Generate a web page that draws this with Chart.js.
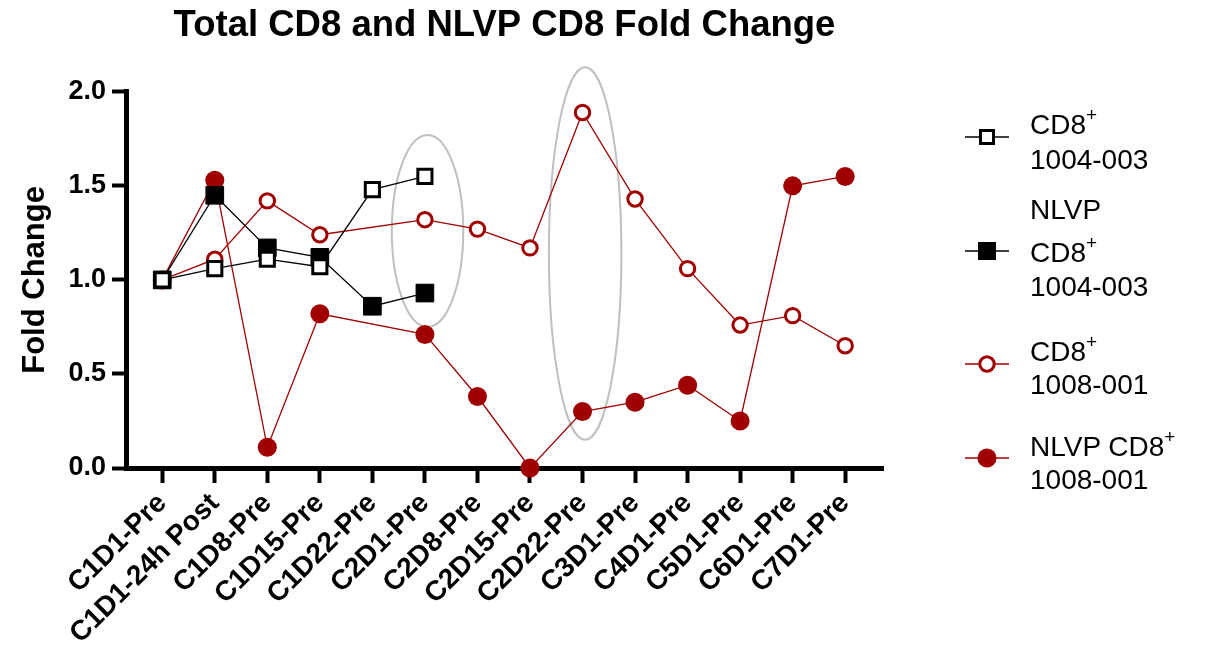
<!DOCTYPE html>
<html>
<head>
<meta charset="utf-8">
<script src="https://cdn.jsdelivr.net/npm/chart.js@4.4.1/dist/chart.umd.min.js"></script>
<style>
  body { margin: 0; background: #fff; }
  #wrap { position: relative; width: 1212px; height: 655px; }
  .leg { position: absolute; left: 1030px; font-family: "Liberation Sans", Arial, sans-serif; font-size: 28px; line-height: 1; color: #000; white-space: nowrap; }
  .leg sup { font-size: 19px; vertical-align: top; position: relative; top: -6px; line-height: 1; }
  .sym { position: absolute; left: 965px; }
</style>
</head>
<body>
<div id="wrap">
  <canvas id="chart" width="1212" height="655"></canvas>

  <svg class="sym" style="top:125px" width="44" height="24">
    <line x1="0" y1="12" x2="44" y2="12" stroke="#000" stroke-width="1.3"/>
    <rect x="15.5" y="5.5" width="13" height="13" fill="#fff" stroke="#000" stroke-width="3"/>
  </svg>
  <div class="leg" style="top:111px">CD8<sup>+</sup></div>
  <div class="leg" style="top:146px">1004-003</div>

  <svg class="sym" style="top:239px" width="44" height="24">
    <line x1="0" y1="12" x2="44" y2="12" stroke="#000" stroke-width="1.3"/>
    <rect x="13" y="3" width="18" height="18" fill="#000"/>
  </svg>
  <div class="leg" style="top:196px">NLVP</div>
  <div class="leg" style="top:239px">CD8<sup>+</sup></div>
  <div class="leg" style="top:273px">1004-003</div>

  <svg class="sym" style="top:352px" width="44" height="24">
    <line x1="0" y1="12" x2="44" y2="12" stroke="#a00000" stroke-width="1.3"/>
    <circle cx="22" cy="12" r="7.2" fill="#fff" stroke="#a00000" stroke-width="3"/>
  </svg>
  <div class="leg" style="top:338px">CD8<sup>+</sup></div>
  <div class="leg" style="top:371px">1008-001</div>

  <svg class="sym" style="top:446px" width="44" height="24">
    <line x1="0" y1="12" x2="44" y2="12" stroke="#a00000" stroke-width="1.3"/>
    <circle cx="22" cy="12" r="9.5" fill="#a00000"/>
  </svg>
  <div class="leg" style="top:433px">NLVP CD8<sup>+</sup></div>
  <div class="leg" style="top:466px">1008-001</div>
</div>

<script>
// time points on the x axis
const timepoints = ['C1D1-Pre', 'C1D1-24h Post', 'C1D8-Pre', 'C1D15-Pre', 'C1D22-Pre', 'C2D1-Pre', 'C2D8-Pre',
  'C2D15-Pre', 'C2D22-Pre', 'C3D1-Pre', 'C4D1-Pre', 'C5D1-Pre', 'C6D1-Pre', 'C7D1-Pre'];

// fold change per patient (null = no sample)
const cd8_1004 = [1.00, 1.06, 1.11, 1.07, 1.48, 1.55];
const nlvp_1004 = [1.00, 1.45, 1.17, 1.12, 0.86, 0.93];
const cd8_1008 = [1.00, 1.11, 1.42, 1.24, null, 1.32, 1.27, 1.17, 1.89, 1.43, 1.06, 0.76, 0.81, 0.65];
const nlvp_1008 = [1.00, 1.53, 0.11, 0.82, null, 0.71, 0.38, 0.00, 0.30, 0.35, 0.44, 0.25, 1.50, 1.55];

const yTicks = [0, 0.5, 1.0, 1.5, 2.0];

// grey ovals marking time points (center and half sizes in data units)
const highlights = [
  { x: 5.05, y: 1.26, rx: 0.68, ry: 0.51 },
  { x: 8.05, y: 1.14, rx: 0.69, ry: 0.99 }
];

const RED = '#a00000';

function toPoints(arr) {
  return arr.map((v, i) => ({ x: i, y: v })).filter(p => p.y !== null);
}

const ovalPlugin = {
  id: 'ovals',
  beforeDatasetsDraw(chart) {
    const { ctx, scales: { x, y } } = chart;
    ctx.save();
    ctx.strokeStyle = '#c0c0c0';
    ctx.lineWidth = 2;
    highlights.forEach(h => {
      const cx = x.getPixelForValue(h.x);
      const cy = y.getPixelForValue(h.y);
      const rx = Math.abs(x.getPixelForValue(h.x + h.rx) - cx);
      const ry = Math.abs(y.getPixelForValue(h.y + h.ry) - cy);
      ctx.beginPath();
      ctx.ellipse(cx, cy, rx, ry, 0, 0, Math.PI * 2);
      ctx.stroke();
    });
    ctx.restore();
  }
};

Chart.defaults.font.family = '"Liberation Sans", Arial, sans-serif';
Chart.defaults.color = '#000';

new Chart(document.getElementById('chart'), {
  type: 'line',
  data: {
    datasets: [
      {
        label: 'CD8+ 1004-003',
        data: toPoints(cd8_1004),
        borderColor: '#000',
        borderWidth: 1.3,
        pointStyle: 'rect',
        pointRadius: 10,
        pointBorderWidth: 3,
        pointBackgroundColor: '#fff',
        pointBorderColor: '#000'
      },
      {
        label: 'NLVP CD8+ 1004-003',
        data: toPoints(nlvp_1004),
        borderColor: '#000',
        borderWidth: 1.3,
        pointStyle: 'rect',
        pointRadius: 12.5,
        pointBorderWidth: 1,
        pointBackgroundColor: '#000',
        pointBorderColor: '#000'
      },
      {
        label: 'CD8+ 1008-001',
        data: toPoints(cd8_1008),
        borderColor: RED,
        borderWidth: 1.3,
        pointStyle: 'circle',
        pointRadius: 7.2,
        pointBorderWidth: 3,
        pointBackgroundColor: '#fff',
        pointBorderColor: RED
      },
      {
        label: 'NLVP CD8+ 1008-001',
        data: toPoints(nlvp_1008),
        borderColor: RED,
        borderWidth: 1.3,
        pointStyle: 'circle',
        pointRadius: 9.5,
        pointBorderWidth: 0,
        pointBackgroundColor: RED,
        pointBorderColor: RED
      }
    ]
  },
  options: {
    responsive: false,
    animation: false,
    events: [],
    clip: false,
    layout: { padding: { top: 0, left: 0, right: 329, bottom: 0 } },
    plugins: {
      legend: { display: false },
      tooltip: { enabled: false },
      title: {
        display: true,
        fullSize: false,
        text: 'Total CD8 and NLVP CD8 Fold Change',
        font: { size: 36.5, weight: 'bold' },
        padding: { top: 4, bottom: 44 },
        color: '#000'
      }
    },
    scales: {
      x: {
        type: 'linear',
        min: -0.69,
        max: 13.72,
        afterFit(scale) { scale.height = 187; },
        border: { display: true, color: '#000', width: 5 },
        grid: { drawOnChartArea: false, drawTicks: true, tickLength: 15, tickWidth: 4, color: '#000' },
        ticks: {
          stepSize: 1,
          includeBounds: false,
          autoSkip: false,
          maxRotation: 45,
          minRotation: 45,
          padding: 4,
          font: { size: 28, weight: 'bold' },
          callback: v => (Number.isInteger(v) && timepoints[v]) ? timepoints[v] : ''
        }
      },
      y: {
        min: 0,
        max: 2,
        afterFit(scale) { scale.width = 126; },
        afterBuildTicks(scale) { scale.ticks = yTicks.map(v => ({ value: v })); },
        border: { display: true, color: '#000', width: 5 },
        grid: { drawOnChartArea: false, drawTicks: true, tickLength: 14, tickWidth: 4, color: '#000' },
        ticks: {
          padding: 6,
          font: { size: 27, weight: 'bold' },
          callback: v => v.toFixed(1)
        },
        title: {
          display: true,
          text: 'Fold Change',
          font: { size: 31, weight: 'bold' },
          padding: { top: 17, bottom: 0 }
        }
      }
    }
  },
  plugins: [ovalPlugin]
});
</script>
</body>
</html>
